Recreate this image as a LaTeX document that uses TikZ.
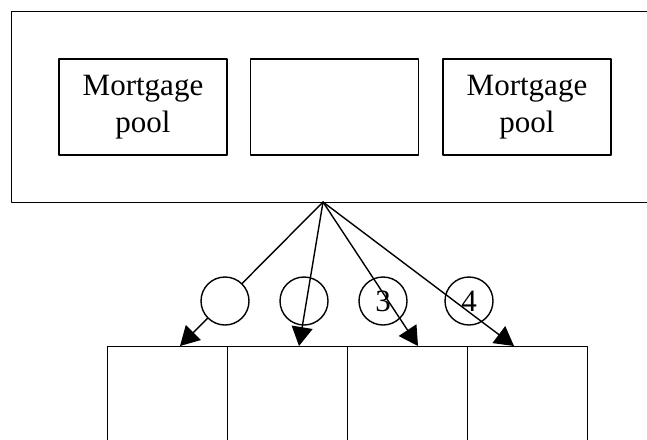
\documentclass[tikz,border=0pt]{standalone}
\usepackage{fontspec}
\setmainfont{Liberation Serif}
\usetikzlibrary{arrows.meta}

\tikzset{
	pool/.style={draw,line width=1.4pt,minimum width=168pt,minimum height=96pt,inner sep=0pt,align=center,font=\fontsize{31}{37}\selectfont},
	tranche/.style={draw,line width=1.4pt,minimum width=120pt,minimum height=130pt,inner sep=0pt,anchor=north west},
	flag/.style={draw,circle,line width=1.4pt,minimum size=48pt,inner sep=0pt,font=\fontsize{31}{37}\selectfont},
	flow/.style={line width=1.4pt,-{Triangle[length=19pt,width=21pt]}}
}

\begin{document}
\begin{tikzpicture}[line cap=round,line join=round,x=1pt,y=-1pt]
	\useasboundingbox (0,0) rectangle (647,439);
	\clip (0,0) rectangle (647,439);
	% outer frame and pools
	\node (frame) [draw,line width=1.4pt,minimum width=700pt,minimum height=191pt,anchor=north west] at (11,11) {};
	\node (left) [pool] at (143,107) {Mortgage\\pool};
	\node (mid) [pool] at (334.5,107) {};
	\node (right) [pool] at (527,107) {Mortgage\\pool};
	% tranches
	\foreach \i/\x in {1/107,2/227,3/347,4/467}
	\node (box\i) [tranche] at (\x,346) {};
	\coordinate (apex) at (323,202);
	\coordinate (t1) at (180,346);
	\coordinate (t2) at (299,346);
	\coordinate (t3) at (418,346);
	\coordinate (t4) at (514,346);
	\foreach \i in {1,...,4}
	\draw[flow] (apex) -- (t\i);
	\node (c1) [flag,fill=white] at (225,301) {};
	\node (c2) [flag] at (304,301) {};
	\node (c3) [flag] at (383,301) {3};
	\node (c4) [flag] at (469,301) {4};
\end{tikzpicture}
\end{document}
